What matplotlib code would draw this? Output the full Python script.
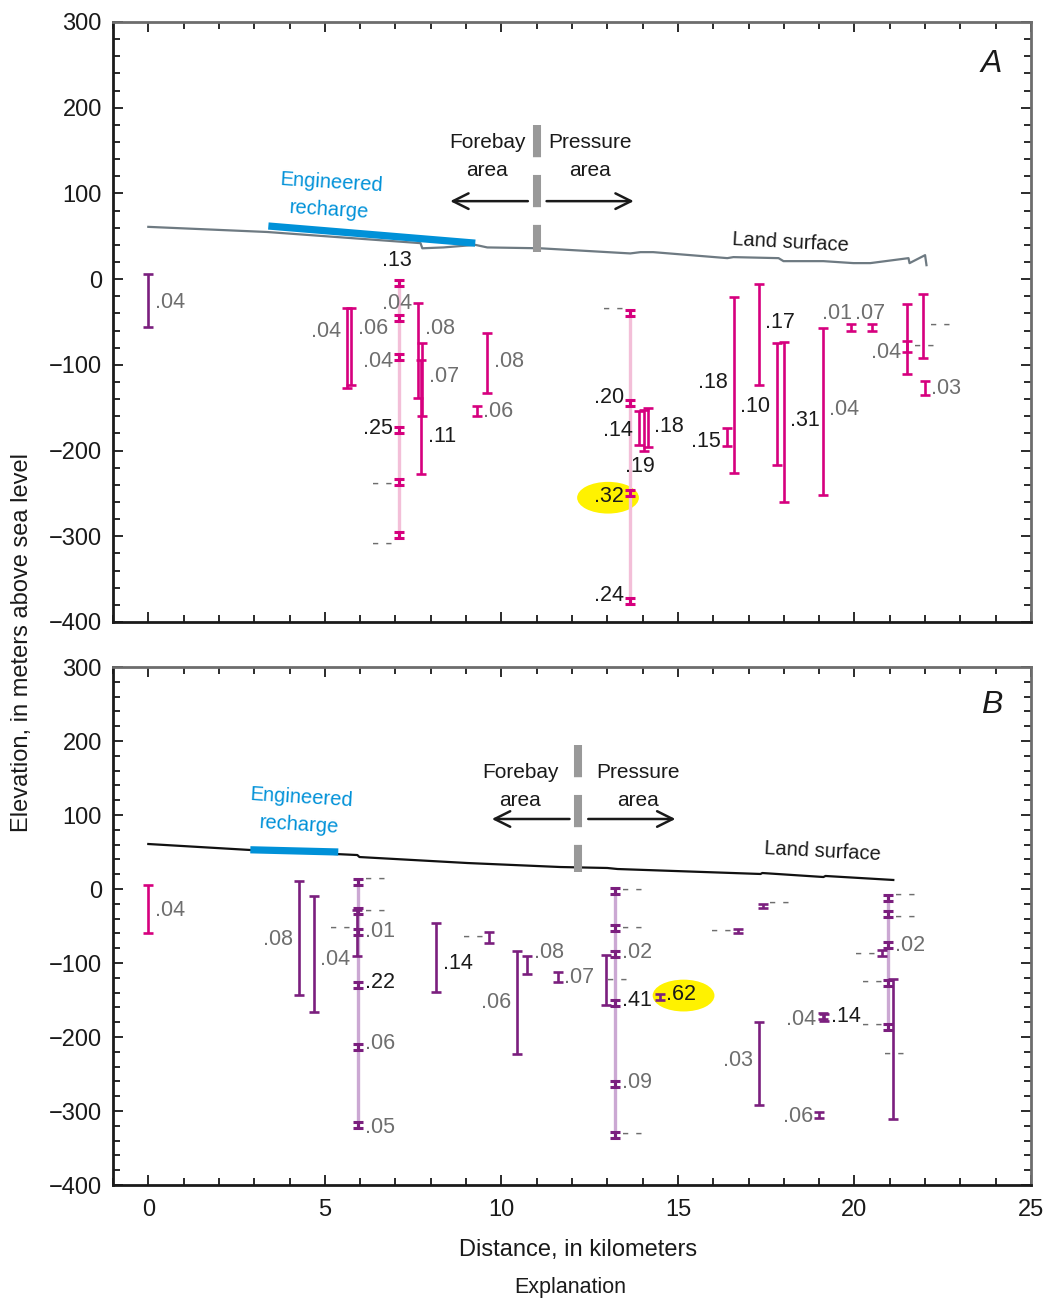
#!/usr/bin/env python
"""Two-panel cross section of well screens, forebay to pressure area."""

import matplotlib
matplotlib.use('Agg')
import matplotlib.pyplot as plt
import matplotlib.patches as mpatches
import matplotlib.ticker as mticker

plt.rcParams['font.family'] = ['Liberation Sans', 'DejaVu Sans']


# Data (distance in km, elevation in m)
# ----

# land surface profiles
A_LAND_X = [0.0, 3.37, 7.71, 7.76, 8.36, 9.26, 9.60, 11.1, 13.65, 13.94,
            14.3, 16.4, 16.57, 17.85, 17.99, 19.12, 19.97, 20.45, 21.53,
            21.56, 22.0, 22.04]
A_LAND_Z = [61, 55, 42, 36, 37, 40, 37, 36, 30, 31.5, 31.5, 24.5, 25.7,
            24.5, 21, 21, 18.7, 18.7, 24.5, 18.7, 28, 16.3]
B_LAND_X = [0.0, 2.89, 5.92, 5.98, 9.04, 11.67, 13.0, 13.29, 17.34, 17.39,
            19.12, 19.18, 21.1]
B_LAND_Z = [60.8, 52.7, 45.9, 43.2, 35.1, 29.7, 28.4, 27.0, 20.3, 21.6,
            16.2, 17.6, 12.2]

# engineered recharge reach
A_RECHARGE_X = [3.4, 9.26]
A_RECHARGE_Z = [62, 42]
B_RECHARGE_X = [2.89, 5.38]
B_RECHARGE_Z = [53, 50]

# forebay / pressure area boundary
A_BOUNDARY = 11.0
B_BOUNDARY = 12.18

# reference well at distance zero
A_REF = (0.0, 6, -56, '.04')
B_REF = (0.0, 5.4, -59.5, '.04')

# single-screen wells
A_WELL_X = [5.64, 5.75, 7.65, 7.76, 7.73, 9.6, 9.3, 13.9, 14.03, 14.15,
            16.4, 16.6, 17.3, 17.8, 18.0, 19.1, 19.9, 20.5, 21.5, 21.5,
            21.95, 22.0]
A_WELL_TOP = [-34, -34, -28, -74, -94, -63, -148, -154, -153, -150, -174,
              -21, -6, -75, -73, -57, -52, -52, -29, -72, -17, -119]
A_WELL_BOT = [-127, -123, -139, -160, -227, -133, -160, -194, -201, -196,
              -195, -226, -123, -217, -260, -252, -60, -60, -111, -85, -92,
              -135]
A_WELL_LABEL = ['.04', '.06', '.08', '.07', '.11', '.08', '.06', '.14',
                '.19', '.18', '.15', '.18', '.17', '.10', '.31', '.04',
                '.01', '.07', '.04', '--', '--', '.03']

B_WELL_X = [4.28, 4.68, 5.92, 8.16, 9.66, 10.45, 10.73, 11.6, 12.97, 14.48,
            16.7, 17.4, 17.3, 19.0, 19.1, 19.15, 20.77, 21.08]
B_WELL_TOP = [10.8, -9.5, -28, -46, -58, -84, -91, -112, -89, -142, -54,
              -20, -180, -301, -167, -169, -83, -121]
B_WELL_BOT = [-143, -166, -90, -139, -73, -223, -115, -126, -157, -150,
              -59, -26, -292, -310, -176, -178, -90, -311]
B_WELL_LABEL = ['.08', '.04', '--', '.14', '--', '.06', '.08', '.07', '--',
                '.62', '--', '--', '.03', '.06', '.04', '.14', '--', '--']

# multi-level wells (screen mid elevations)
A_MULTI_X = [7.1, 13.65]
A_MULTI_SCREENS = [[-5, -45, -91, -176, -237, -299],
                   [-40, -145, -250, -375]]
A_MULTI_LABELS = [['.13', '.04', '.04', '.25', '--', '--'],
                  ['--', '.20', '.32', '.24']]
B_MULTI_X = [5.95, 13.23, 20.96]
B_MULTI_SCREENS = [[9.5, -30, -58, -130, -213, -319],
                   [-2.7, -52.7, -88, -154, -263, -332],
                   [-12, -34, -76, -127, -186]]
B_MULTI_LABELS = [['--', '--', '.01', '.22', '.06', '.05'],
                  ['--', '--', '.02', '.41', '.09', '--'],
                  ['--', '--', '.02', '--', '--']]

# highlighted samples
A_HIGHLIGHT = '.32'
B_HIGHLIGHT = '.62'


# Label layout (side of the bar and elevation of the text)
# ------------

A_WELL_SIDE = ['l', 'r', 'r', 'r', 'r', 'r', 'r', 'l', 'b', 'r', 'l', 'l',
               'r', 'l', 'r', 'r', 'al', 'a', 'l', 'r', 'r', 'r']
A_WELL_TY = [-61, -57, -57, -114, -184, -96, -154, -176, -219, -172, -189,
             -121, -51, -149, -165, -152, -40, -40, -86, -78, -54, -127]
A_MULTI_SIDE = [['a', 'a', 'l', 'l', 'l', 'l'], ['l', 'l', 'l', 'l']]
A_MULTI_TY = [[22, -28, -96, -174, -239, -310], [-35, -138, -253, -369]]

B_WELL_SIDE = ['l', 'r', 'l', 'r', 'l', 'l', 'r', 'r', 'c', 'r', 'l', 'r',
               'l', 'l', 'l', 'r', 'l', 'cc']
B_WELL_TY = [-68, -95, -53, -101, -65, -154, -86, -119, -123, -142, -57,
             -20, -232, -308, -176, -172, -88, -224]
B_MULTI_SIDE = [['r'] * 6, ['r'] * 6, ['r', 'r', 'r', 'l', 'l']]
B_MULTI_TY = [[13.5, -30, -57, -127, -209, -322],
              [-1.4, -53, -86, -151, -262, -332],
              [-9, -38, -76, -127, -184]]


# Colours
# -------

MAGENTA = '#d6007e'
PURPLE = '#7b1f7e'
PINK_LIGHT = '#f3bfd8'
PURPLE_LIGHT = '#cba8d3'
BLUE = '#0091d8'
GREY_TEXT = '#6e6e6e'
BLACK_TEXT = '#1a1a1a'
DIVIDER = '#999999'


# Drawing helpers
# ---------------

def draw_bar(ax, x, top, bot, color, lw=1.9, capsize=3.6, zorder=3):
    """Draw a well screen interval as a capped vertical bar."""
    mid = 0.5*(top+bot)
    half = 0.5*(top-bot)
    ax.errorbar([x], [mid], yerr=[[half], [half]], fmt='none', ecolor=color,
                elinewidth=lw, capsize=capsize, capthick=lw, zorder=zorder)


def put_label(ax, x, y, text, side, highlight=None, hl_height=37):
    """Write a sample value next to its well screen."""
    if text == '--':
        color = GREY_TEXT
        shown = '- -'
    else:
        color = BLACK_TEXT if float(text) >= 0.10 else GREY_TEXT
        shown = text
    dx = 0.18
    xt, ha = {'r': (x+dx, 'left'), 'l': (x-dx, 'right'),
              'c': (x+0.3, 'center'), 'cc': (x+0.05, 'center'),
              'a': (x-0.05, 'center'), 'al': (x-0.4, 'center'),
              'b': (x-0.1, 'center')}[side]
    ax.text(xt, y, shown, ha=ha, va='center', color=color, fontsize=15.5,
            zorder=5)
    if text == highlight:
        cx = xt + (0.5 if ha == 'left' else -0.45 if ha == 'right' else 0)
        ax.add_patch(mpatches.Ellipse((cx, y-2), 1.75, hl_height,
                                      fc='#fff200', ec='none', zorder=1))


def draw_panel(ax, p):
    """Draw one cross-section panel from its data dictionary."""

    # land surface, recharge and area boundary
    ax.plot(p['land_x'], p['land_z'], color=p['land_color'], lw=1.6,
            zorder=2)
    ax.plot(p['rech_x'], p['rech_z'], color=BLUE, lw=5.2,
            solid_capstyle='butt', zorder=2.5)
    ax.plot([p['bound'], p['bound']], [p['bound_top'], p['bound_bot']],
            color=DIVIDER, lw=5.8, dashes=(4.0, 2.2), zorder=2.5)

    # arrows and area names
    ya = p['arrow_y']
    b = p['bound']
    ax.annotate('', xy=(b-2.45, ya), xytext=(b-0.25, ya),
                arrowprops=dict(arrowstyle='->', lw=1.8, color='#1a1a1a',
                                mutation_scale=28, shrinkA=0, shrinkB=0))
    ax.annotate('', xy=(b+2.75, ya), xytext=(b+0.28, ya),
                arrowprops=dict(arrowstyle='->', lw=1.8, color='#1a1a1a',
                                mutation_scale=28, shrinkA=0, shrinkB=0))
    ax.text(p['forebay_x'], p['names_y'], 'Forebay\narea', ha='center',
            va='center', fontsize=15, color='#1a1a1a', linespacing=1.6)
    ax.text(p['pressure_x'], p['names_y'], 'Pressure\narea', ha='center',
            va='center', fontsize=15, color='#1a1a1a', linespacing=1.6)
    ax.text(p['rech_text'][0], p['rech_text'][1], 'Engineered\nrecharge',
            ha='center', va='center', fontsize=14.5, color=BLUE,
            rotation=-3.5, linespacing=1.55)
    ax.text(p['land_text'][0], p['land_text'][1], 'Land surface',
            ha='center', va='center', fontsize=14.5, color='#1a1a1a',
            rotation=-3)
    ax.text(0.957, p['letter_y'], p['letter'], transform=ax.transAxes,
            ha='center', va='center', fontsize=23, style='italic',
            color='#1a1a1a')

    # reference well
    x, top, bot, lab = p['ref']
    draw_bar(ax, x, top, bot, p['ref_color'])
    put_label(ax, x, 0.5*(top+bot)-2, lab, 'r')

    # single-screen wells
    for x, top, bot, lab, side, ty in zip(
            p['well_x'], p['well_top'], p['well_bot'], p['well_label'],
            p['well_side'], p['well_ty']):
        draw_bar(ax, x, top, bot, p['color'])
        put_label(ax, x, ty, lab, side, p['highlight'], p['hl_height'])

    # multi-level wells
    h = p['screen_half']
    for x, screens, labels, sides, tys in zip(
            p['multi_x'], p['multi_screens'], p['multi_labels'],
            p['multi_side'], p['multi_ty']):
        ax.plot([x, x], [max(screens)+h, min(screens)-h], color=p['light'],
                lw=2.4, zorder=1.5, solid_capstyle='butt')
        for z, lab, side, ty in zip(screens, labels, sides, tys):
            draw_bar(ax, x, z+h, z-h, p['color'], lw=2.2, capsize=3.8)
            put_label(ax, x, ty, lab, side, p['highlight'], p['hl_height'])


def style_axes(ax, show_x):
    """Set limits, ticks and spines."""
    ax.set_xlim(-1, 25)
    ax.set_ylim(-400, 300)
    ax.xaxis.set_major_locator(mticker.MultipleLocator(5))
    ax.xaxis.set_minor_locator(mticker.MultipleLocator(1))
    ax.yaxis.set_major_locator(mticker.MultipleLocator(100))
    ax.yaxis.set_minor_locator(mticker.MultipleLocator(20))
    ax.tick_params(which='both', direction='in', top=True, right=True,
                   width=1.3, labelsize=17, colors='#1a1a1a', pad=8)
    ax.tick_params(which='major', length=7)
    ax.tick_params(which='minor', length=5)
    ax.tick_params(axis='x', labelbottom=show_x, pad=10)
    for side in ['top', 'right']:
        ax.spines[side].set_color('#6d6d6d')
        ax.spines[side].set_linewidth(2.0)
    for side in ['left', 'bottom']:
        ax.spines[side].set_color('#1a1a1a')
        ax.spines[side].set_linewidth(2.0)


# Main visual
# -----------

def draw():
    """Plot complete figure."""

    fig = plt.figure(figsize=(10.5, 13.02), dpi=100)
    axa = fig.add_axes([113/1050, 1-622/1302, 918/1050, 600/1302])
    axb = fig.add_axes([113/1050, 1-1185/1302, 918/1050, 518/1302])

    panel_a = dict(
        land_x=A_LAND_X, land_z=A_LAND_Z, land_color='#6e7a82',
        rech_x=A_RECHARGE_X, rech_z=A_RECHARGE_Z,
        bound=A_BOUNDARY, bound_top=180, bound_bot=31.5,
        arrow_y=91, names_y=143, forebay_x=9.6, pressure_x=12.5,
        rech_text=(5.15, 97), land_text=(18.2, 43), letter='A',
        letter_y=0.93,
        ref=A_REF, ref_color=PURPLE, color=MAGENTA, light=PINK_LIGHT,
        well_x=A_WELL_X, well_top=A_WELL_TOP, well_bot=A_WELL_BOT,
        well_label=A_WELL_LABEL, well_side=A_WELL_SIDE, well_ty=A_WELL_TY,
        multi_x=A_MULTI_X, multi_screens=A_MULTI_SCREENS,
        multi_labels=A_MULTI_LABELS, multi_side=A_MULTI_SIDE,
        multi_ty=A_MULTI_TY, highlight=A_HIGHLIGHT, hl_height=37,
        screen_half=3.5)
    panel_b = dict(
        land_x=B_LAND_X, land_z=B_LAND_Z, land_color='#111111',
        rech_x=B_RECHARGE_X, rech_z=B_RECHARGE_Z,
        bound=B_BOUNDARY, bound_top=194.6, bound_bot=23,
        arrow_y=94.6, names_y=139, forebay_x=10.54, pressure_x=13.88,
        rech_text=(4.3, 105), land_text=(19.1, 51), letter='B',
        letter_y=0.927,
        ref=B_REF, ref_color=MAGENTA, color=PURPLE, light=PURPLE_LIGHT,
        well_x=B_WELL_X, well_top=B_WELL_TOP, well_bot=B_WELL_BOT,
        well_label=B_WELL_LABEL, well_side=B_WELL_SIDE, well_ty=B_WELL_TY,
        multi_x=B_MULTI_X, multi_screens=B_MULTI_SCREENS,
        multi_labels=B_MULTI_LABELS, multi_side=B_MULTI_SIDE,
        multi_ty=B_MULTI_TY, highlight=B_HIGHLIGHT, hl_height=43,
        screen_half=4.0)

    draw_panel(axa, panel_a)
    draw_panel(axb, panel_b)
    style_axes(axa, show_x=False)
    style_axes(axb, show_x=True)

    # shared labels
    fig.text(0.021, 1-642/1302, 'Elevation, in meters above sea level',
             rotation=90, ha='center', va='center', fontsize=17,
             color='#1a1a1a')
    fig.text(578/1050, 1-1250/1302, 'Distance, in kilometers', ha='center',
             va='center', fontsize=17, color='#1a1a1a')
    fig.text(570/1050, 1-1287/1302, 'Explanation', ha='center',
             va='center', fontsize=15.5, color='#1a1a1a')

    return fig


def main():
    """Main program for command-line execution."""
    fig = draw()
    fig.savefig('out.png', dpi=100)
    plt.close(fig)


if __name__ == '__main__':
    main()
